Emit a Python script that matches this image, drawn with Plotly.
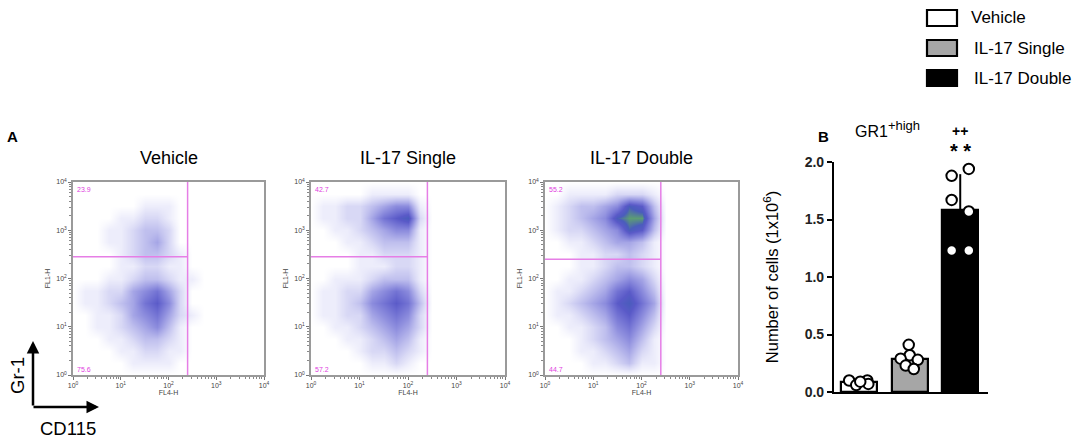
import numpy as np
import plotly.graph_objects as go

W, H = 1076, 439

# ---- panel A: flow cytometry (Gr-1 vs CD115) ----
panel_names = ["Vehicle", "IL-17 Single", "IL-17 Double"]
upper_pct = ["23.9", "42.7", "55.2"]
lower_pct = ["75.6", "57.2", "44.7"]
gate_x = [2.40, 2.40, 2.40]   # log10 FL4-H gate
gate_y = [2.45, 2.45, 2.40]   # log10 FL1-H gate

# event density read on a 0.25-decade grid (0..9), rows from 10^4 (top) down to 10^0
vehicle_density = [
    "00000000000000000",
    "00000000000000000",
    "00000011100000000",
    "00001122100000000",
    "00011233200000000",
    "00011234200000000",
    "00001233210000000",
    "00001122110000000",
    "00011233211000000",
    "01122456420000000",
    "01123467520000000",
    "00112456421000000",
    "00112345310000000",
    "00011233210000000",
    "00001122110000000",
    "00000111100000000",
    "00000000000000000",
]
single_density = [
    "00000000000000000",
    "00000111100000000",
    "01122345510000000",
    "01122467820000000",
    "00112345510000000",
    "00011233310000000",
    "00001122210000000",
    "00001112210000000",
    "00111233310000000",
    "01122456520000000",
    "01123567630000000",
    "01122456520000000",
    "00112345420000000",
    "00011234310000000",
    "00001223210000000",
    "00000112100000000",
    "00000000000000000",
]
double_density = [
    "00000000000000000",
    "00111122210000000",
    "01233458730000000",
    "01234589940000000",
    "01223458730000000",
    "00112344310000000",
    "00011223210000000",
    "00011233210000000",
    "00112345420000000",
    "01123467530000000",
    "01234578640000000",
    "01123467530000000",
    "00112356420000000",
    "00012345310000000",
    "00011234210000000",
    "00001123110000000",
    "00000000000000000",
]

# ---- panel B: GR1+high cell numbers (x10^6) ----
groups = ["Vehicle", "IL-17 Single", "IL-17 Double"]
vehicle_cells = [0.10, 0.06, 0.10, 0.07, 0.09]
single_cells = [0.41, 0.32, 0.29, 0.28, 0.23, 0.20]
double_cells = [1.88, 1.94, 1.67, 1.57, 1.23, 1.23]
bar_colors = ["white", "#a6a6a6", "black"]

FONT = "Arial, Liberation Sans, sans-serif"


def px(x):
    return x / W


def py(y):
    return 1 - y / H


fig = go.Figure()

densities = [vehicle_density, single_density, double_density]
grid = np.arange(17) * 0.25
flow_scale = [
    [0.0, "#ffffff"], [0.11, "#ededfb"], [0.22, "#d8d8f5"], [0.33, "#c0c0ee"],
    [0.44, "#a6a6e6"], [0.55, "#8c8cdd"], [0.67, "#7272d3"], [0.78, "#5a5ac8"],
    [0.89, "#4a5cbc"], [1.0, "#5c9c74"],
]
x_doms = [(73, 264), (311, 505), (545, 738)]
y_dom = (182, 375)
minor_vals = [n + np.log10(k) for n in range(4) for k in range(2, 10)]

for i in range(3):
    n = "" if i == 0 else str(i + 1)
    z = np.array([[int(c) for c in row] for row in densities[i]])[::-1]
    fig.add_trace(go.Heatmap(x=grid, y=grid, z=z, zmin=0, zmax=9, zsmooth="best",
                             colorscale=flow_scale, showscale=False, hoverinfo="skip",
                             xaxis="x" + n, yaxis="y" + n))
    common = dict(range=[0, 4], tickmode="array", tickvals=[0, 1, 2, 3, 4],
                  ticktext=[f"10<sup>{k}</sup>" for k in range(5)],
                  ticks="outside", ticklen=3, tickcolor="#777", linecolor="#9a9a9a",
                  linewidth=1.5, mirror=True, showgrid=False, zeroline=False, automargin=False,
                  tickfont=dict(size=7, color="#444", family=FONT),
                  minor=dict(tickmode="array", tickvals=minor_vals, ticks="outside",
                             ticklen=2, tickcolor="#888"))
    fig.update_layout(**{
        "xaxis" + n: dict(common, domain=[px(x_doms[i][0]), px(x_doms[i][1])], anchor="y" + n,
                          title=dict(text="FL4-H", font=dict(size=7, color="#444", family=FONT), standoff=0)),
        "yaxis" + n: dict(common, domain=[py(y_dom[1]), py(y_dom[0])], anchor="x" + n,
                          title=dict(text="FL1-H", font=dict(size=7, color="#444", family=FONT), standoff=5)),
    })
    # quadrant gates
    fig.add_shape(type="line", xref="x" + n, yref="y" + n, x0=gate_x[i], x1=gate_x[i], y0=0, y1=4,
                  line=dict(color="#e67ee6", width=1.5))
    fig.add_shape(type="line", xref="x" + n, yref="y" + n, x0=0, x1=gate_x[i], y0=gate_y[i], y1=gate_y[i],
                  line=dict(color="#e67ee6", width=1.5))
    fig.add_annotation(xref="x" + n, yref="y" + n, x=0.05, y=3.95, text=upper_pct[i], showarrow=False,
                       xanchor="left", yanchor="top", font=dict(size=7, color="#e040e0", family=FONT))
    fig.add_annotation(xref="x" + n, yref="y" + n, x=0.05, y=0.0, text=lower_pct[i], showarrow=False,
                       xanchor="left", yanchor="bottom", font=dict(size=7, color="#e040e0", family=FONT))
    fig.add_annotation(xref="paper", yref="paper", x=px((x_doms[i][0] + x_doms[i][1]) / 2), y=py(158),
                       text=panel_names[i], showarrow=False, xanchor="center", yanchor="middle",
                       font=dict(size=18, color="black", family=FONT))

# ---- bars with individual points ----
cells = [vehicle_cells, single_cells, double_cells]
means = [float(np.mean(c)) for c in cells]
sds = [float(np.std(c, ddof=1)) for c in cells]
fig.add_trace(go.Bar(x=[0, 1, 2], y=means, width=0.71, marker_color=bar_colors,
                     marker_line=dict(color="black", width=2.2),
                     error_y=dict(type="data", array=sds, arrayminus=[0, 0, 0], symmetric=False,
                                  color="black", thickness=2, width=0),
                     xaxis="x4", yaxis="y4", showlegend=False))
jitter = [[-0.20, -0.06, 0.16, 0.18, 0.02],
          [-0.02, 0.0, -0.18, 0.16, -0.08, 0.08],
          [-0.17, 0.17, -0.17, 0.17, -0.17, 0.17]]
for i, vals in enumerate(cells):
    fig.add_trace(go.Scatter(x=[i + jitter[i][k] for k in range(len(vals))], y=vals, mode="markers",
                             marker=dict(size=10.5, color="white", line=dict(color="black", width=2)),
                             xaxis="x4", yaxis="y4", showlegend=False, hoverinfo="skip"))

fig.update_layout(
    xaxis4=dict(domain=[px(834), px(988)], anchor="y4", range=[-0.5, 2.55], showticklabels=False,
                ticks="", showgrid=False, zeroline=False, showline=True, linecolor="black", linewidth=2.2,
                automargin=False),
    yaxis4=dict(domain=[py(392), py(162)], anchor="x4", range=[0, 2.0], tickvals=[0, 0.5, 1.0, 1.5, 2.0],
                ticktext=["<b>0.0</b>", "<b>0.5</b>", "<b>1.0</b>", "<b>1.5</b>", "<b>2.0</b>"],
                ticks="outside", ticklen=5, tickwidth=2, automargin=False,
                tickcolor="black", showgrid=False, zeroline=False, showline=True, linecolor="black",
                linewidth=2.2, tickfont=dict(size=14, color="#222", family=FONT),
                title=dict(text="Number of cells (1x10<sup>6</sup>)", standoff=22,
                           font=dict(size=16.5, color="black", family=FONT))),
)

# ---- text, labels, legend ----
texts = [
    (12, 136, "<b>A</b>", 15),
    (823, 136, "<b>B</b>", 15),
    (887, 129, "GR1<sup><span style='font-size:13px'>+high</span></sup>", 16),
    (960, 151, "<b>* *</b>", 20),
    (960, 131, "<b>++</b>", 14),
    (68, 428, "CD115", 18.5),
]
for x, y, t, s in texts:
    fig.add_annotation(xref="paper", yref="paper", x=px(x), y=py(y), text=t, showarrow=False,
                       xanchor="center", yanchor="middle", font=dict(size=s, color="black", family=FONT))
fig.add_annotation(xref="paper", yref="paper", x=px(17), y=py(376), text="Gr-1", textangle=-90,
                   xanchor="center", yanchor="middle",
                   showarrow=False, font=dict(size=18.5, color="black", family=FONT))
# axis arrows
fig.add_annotation(xref="paper", yref="paper", x=px(33), y=py(341), ax=0, ay=66, axref="pixel", ayref="pixel",
                   text="", showarrow=True, arrowhead=2, arrowsize=1, arrowwidth=2.5, arrowcolor="black")
fig.add_annotation(xref="paper", yref="paper", x=px(99), y=py(407), ax=-67, ay=0, axref="pixel", ayref="pixel",
                   text="", showarrow=True, arrowhead=2, arrowsize=1, arrowwidth=2.5, arrowcolor="black")

legend_y = [(10, 26), (40, 56), (70, 86)]
for i, g in enumerate(groups):
    y0, y1 = legend_y[i]
    fig.add_shape(type="rect", xref="paper", yref="paper", x0=px(927), x1=px(957), y0=py(y1), y1=py(y0),
                  fillcolor=bar_colors[i], line=dict(color="black", width=2.2))
    fig.add_annotation(xref="paper", yref="paper", x=px(969 if i == 0 else 972), y=py((y0 + y1) / 2), text=g,
                       showarrow=False, xanchor="left", yanchor="middle",
                       font=dict(size=17, color="black", family=FONT))

fig.update_layout(width=W, height=H, margin=dict(l=0, r=0, t=0, b=0, autoexpand=False), showlegend=False,
                  plot_bgcolor="white", paper_bgcolor="white", bargap=0)

# the page's default body margin would push the figure 8px right and down
fig.write_html("out.html", config={"displayModeBar": False},
               post_script="document.body.style.margin='0';")
